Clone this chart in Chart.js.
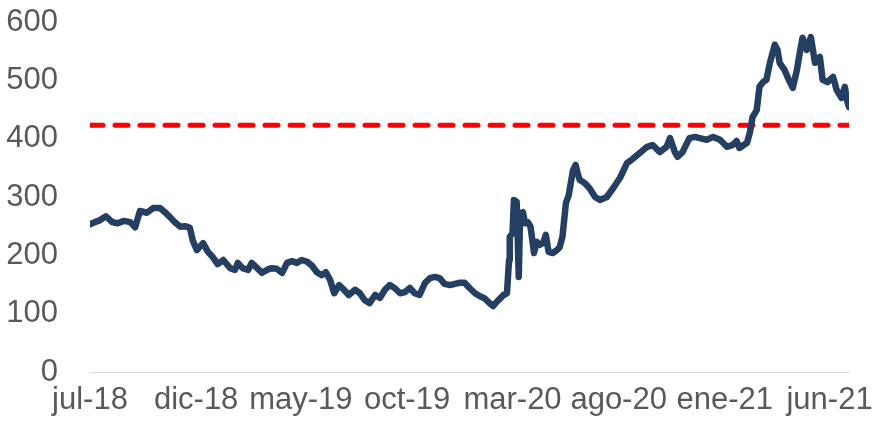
<!DOCTYPE html>
<html>
<head>
<meta charset="utf-8">
<script src="https://cdn.jsdelivr.net/npm/chart.js@4.4.1/dist/chart.umd.min.js"></script>
<style>
  html, body { margin: 0; padding: 0; background: #ffffff; }
  #wrap { width: 876px; height: 423px; position: relative; }
</style>
</head>
<body>
<div id="wrap"><canvas id="priceChart"></canvas></div>
<script>
// days since 1-jul-2018 and the series value at that day
const days = [0, 7, 14, 23, 32, 40, 49, 58, 65, 72, 82, 91, 101, 108, 115, 122, 130, 137, 144, 148,
  154, 163, 170, 177, 184, 192, 202, 209, 213, 220, 228, 233, 241, 248, 255, 262, 269, 277, 284, 291,
  298, 305, 313, 320, 327, 334, 340, 346, 352, 359, 366, 373, 382, 389, 396, 403, 411, 418, 425, 432,
  439, 447, 454, 461, 468, 475, 483, 490, 497, 504, 511, 519, 526, 533, 540, 547, 555, 562, 569, 576,
  581, 586, 592, 596, 601, 604, 605, 609, 611, 615, 618, 620, 624, 627, 631, 635, 640, 644, 648, 653,
  657, 661, 667, 673, 677, 681, 686, 690, 696, 700, 703, 706, 713, 720, 728, 735, 745, 754, 764, 774,
  782, 792, 803, 811, 821, 831, 836, 843, 847, 854, 864, 872, 879, 889, 898, 908, 918, 926, 932, 936,
  947, 951, 955, 961, 965, 970, 975, 980, 987, 991, 994, 1001, 1006, 1013, 1019, 1023, 1027, 1033, 1039, 1045,
  1052, 1056, 1063, 1071, 1076, 1083, 1088, 1091, 1094];
const values = [253, 257, 260, 267, 257, 255, 259, 257, 248, 276, 273, 281, 281, 274, 266, 257, 249, 250, 247, 226,
  209, 221, 206, 197, 185, 192, 178, 175, 187, 178, 175, 187, 178, 170, 175, 178, 177, 170, 187, 190,
  187, 192, 189, 182, 171, 166, 171, 158, 135, 149, 141, 132, 141, 135, 123, 118, 132, 127, 141, 149,
  144, 135, 137, 144, 135, 132, 153, 161, 163, 161, 151, 149, 151, 153, 153, 144, 135, 130, 126, 118,
  113, 120, 127, 132, 135, 192, 232, 238, 295, 292, 163, 272, 274, 255, 257, 249, 204, 223, 218, 221,
  235, 206, 204, 209, 214, 232, 290, 303, 345, 355, 340, 329, 324, 315, 300, 295, 300, 315, 333, 358,
  365, 375, 386, 389, 377, 386, 401, 377, 369, 377, 401, 403, 401, 398, 403, 398, 386, 389, 396, 384,
  393, 410, 437, 449, 489, 497, 501, 530, 561, 552, 530, 518, 504, 487, 518, 547, 573, 552, 574, 530,
  540, 501, 497, 506, 484, 470, 489, 466, 454];

const threshold = 423;

const tickDays = [0, 153, 304, 457, 609, 762, 915, 1066];
const tickLabels = ['jul-18', 'dic-18', 'may-19', 'oct-19', 'mar-20', 'ago-20', 'ene-21', 'jun-21'];

const yTicks = [0, 100, 200, 300, 400, 500, 600];

const lastDay = days[days.length - 1];
const labelFont = { family: "'Liberation Sans', Arial, sans-serif", size: 31 };

const ctx = document.getElementById('priceChart').getContext('2d');
new Chart(ctx, {
    type: 'line',
    data: {
        datasets: [{
            label: 'Precio',
            data: days.map((d, i) => ({ x: d, y: values[i] })),
            borderColor: '#243f61',
            borderWidth: 6.5,
            borderJoinStyle: 'round',
            borderCapStyle: 'round',
            pointRadius: 0,
            tension: 0,
            fill: false,
            order: 1
        }, {
            label: 'Nivel',
            data: [{ x: 0, y: threshold }, { x: lastDay, y: threshold }],
            borderColor: '#ff0000',
            borderWidth: 5,
            borderDash: [13, 12],
            borderCapStyle: 'round',
            pointRadius: 0,
            fill: false,
            order: 2
        }]
    },
    options: {
        responsive: true,
        maintainAspectRatio: false,
        animation: false,
        layout: {
            padding: { top: 0, right: 0, bottom: 0, left: 0 }
        },
        plugins: {
            legend: { display: false },
            tooltip: { enabled: false }
        },
        scales: {
            x: {
                type: 'linear',
                min: 0,
                max: lastDay,
                afterBuildTicks: scale => {
                    scale.ticks = tickDays.map(v => ({ value: v }));
                },
                afterFit: scale => {
                    scale.height = 51;
                    scale.paddingRight = 27;
                    scale.paddingLeft = 0;
                },
                grid: {
                    drawOnChartArea: false,
                    drawTicks: false,
                    color: '#d9d9d9'
                },
                border: { color: '#d9d9d9', width: 1 },
                ticks: {
                    autoSkip: false,
                    maxRotation: 0,
                    padding: 10,
                    color: '#595959',
                    font: labelFont,
                    callback: (v, i) => tickLabels[i]
                }
            },
            y: {
                min: 0,
                max: 600,
                afterBuildTicks: scale => {
                    scale.ticks = yTicks.map(v => ({ value: v }));
                },
                afterFit: scale => {
                    scale.width = 90;
                    scale.paddingTop = 22;
                    scale.paddingBottom = 0;
                },
                grid: { display: false },
                border: { display: false },
                ticks: {
                    padding: 24,
                    color: '#595959',
                    font: labelFont
                }
            }
        }
    }
});
</script>
</body>
</html>
